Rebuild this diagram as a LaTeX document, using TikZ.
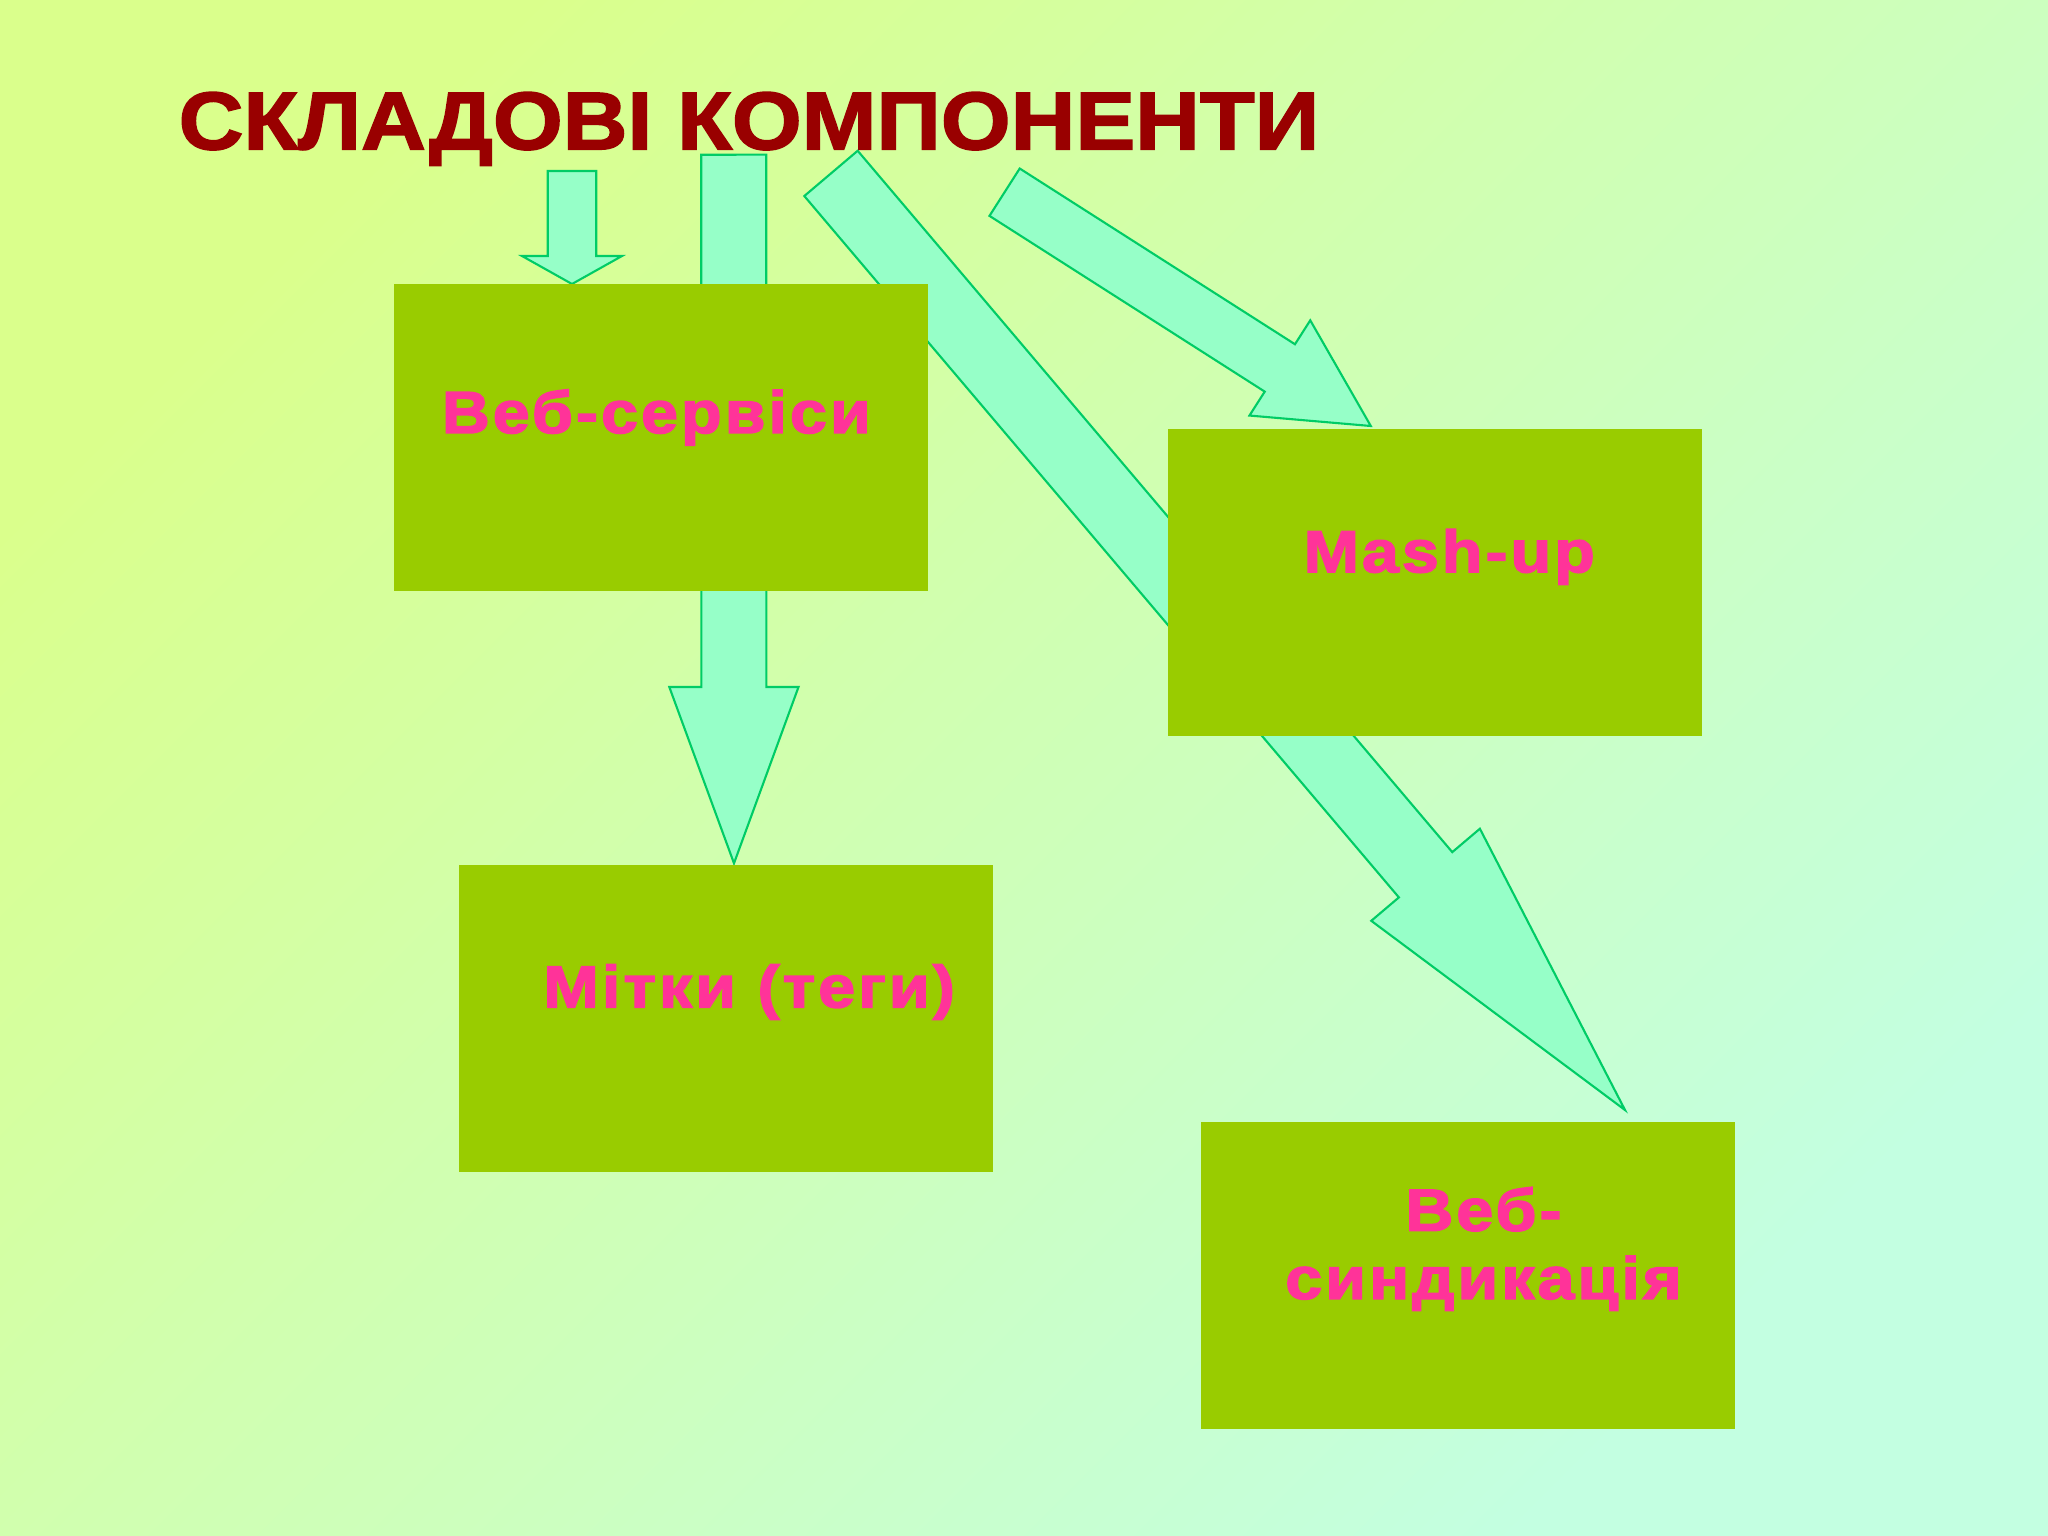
\documentclass[tikz,border=0pt]{standalone}
\usepackage{fontspec}
\setmainfont{Liberation Sans}
\newfontfamily\titlefont[FakeStretch=1.095,FakeBold=2]{Liberation Sans}
\newfontfamily\boxfont[FakeStretch=1.12,LetterSpace=5,FakeBold=2.5]{Liberation Sans}
\usetikzlibrary{calc}
\usetikzlibrary{positioning}
\definecolor{bgtl}{RGB}{218,255,140}
\definecolor{bgbr}{RGB}{195,255,225}
\definecolor{boxgreen}{RGB}{153,204,0}
\definecolor{textpink}{RGB}{255,51,153}
\definecolor{titlered}{RGB}{153,0,0}
\definecolor{arrowfill}{RGB}{150,255,200}
\definecolor{arrowline}{RGB}{0,204,102}
\tikzset{
    mybox/.style = {rectangle, fill=boxgreen, minimum width=5.34cm, minimum height=3.07cm, anchor=north west, inner sep=0pt},
    mytext/.style = {anchor=base, text=textpink, font=\boxfont\bfseries\fontsize{16.9pt}{19.4pt}\selectfont, align=center, inner sep=0pt},
    mytitle/.style = {anchor=base west, text=titlered, font=\titlefont\bfseries\fontsize{23.3pt}{28pt}\selectfont, inner sep=0pt},
    myarrow/.style = {fill=arrowfill, draw=arrowline, line width=0.6pt, line join=miter}
}
% block arrow: tail, tip, shaft half width, head half width, head length
\newcommand{\blockarrow}[5]{%
  \coordinate (hb) at ($(#2)!#5!(#1)$);
  \draw[myarrow] ($(#1)!#3!90:(#2)$) -- ($(hb)!#3!90:(#2)$) -- ($(hb)!#4!90:(#2)$) -- (#2)
    -- ($(hb)!#4!-90:(#2)$) -- ($(hb)!#3!-90:(#2)$) -- ($(#1)!#3!-90:(#2)$) -- cycle;}

\begin{document}
\begin{tikzpicture}
\shade[top color=bgtl, bottom color=bgbr, shading angle=45] (0,0) rectangle (20.48,-15.36);
\useasboundingbox (0,0) rectangle (20.48,-15.36);

%
\coordinate (ta) at (5.72,-1.71);
\coordinate (pa) at (5.72,-2.84);
\coordinate (tb) at (7.337,-1.547);
\coordinate (pb) at (7.34,-8.633);
\coordinate (tc) at (8.31,-1.734);
\coordinate (pc) at (16.25,-11.10);
\coordinate (td) at (10.046,-1.922);
\coordinate (pd) at (13.708,-4.26);
%
\blockarrow{ta}{pa}{0.243cm}{0.50cm}{0.28cm}
\blockarrow{tb}{pb}{0.325cm}{0.646cm}{1.763cm}
\blockarrow{tc}{pc}{0.35cm}{0.712cm}{3.084cm}
\blockarrow{td}{pd}{0.281cm}{0.565cm}{1.079cm}

%
\node[mytitle] at (1.78,-1.493) (title) {СКЛАДОВІ КОМПОНЕНТИ};
%
\node[mybox] at (3.936,-2.833) (web) {};
\node[mybox] at (11.675,-4.283) (mash) {};
\node[mybox] at (4.58,-8.643) (tags) {};
\node[mybox] at (12.003,-11.217) (synd) {};
%
\node[mytext] at ($(web.center)+(-0.05,0.045)$) (webt) {Веб-сервіси};
\node[mytext] at ($(mash.center)+(0.14,0.103)$) (masht) {Mash-up};
\node[mytext] at ($(tags.center)+(0.235,0.111)$) (tagst) {Мітки (теги)};
\node[mytext] at ($(synd.center)+(0.155,-0.23)$) (syndt) {Веб-\\синдикація};

\end{tikzpicture}
\end{document}
